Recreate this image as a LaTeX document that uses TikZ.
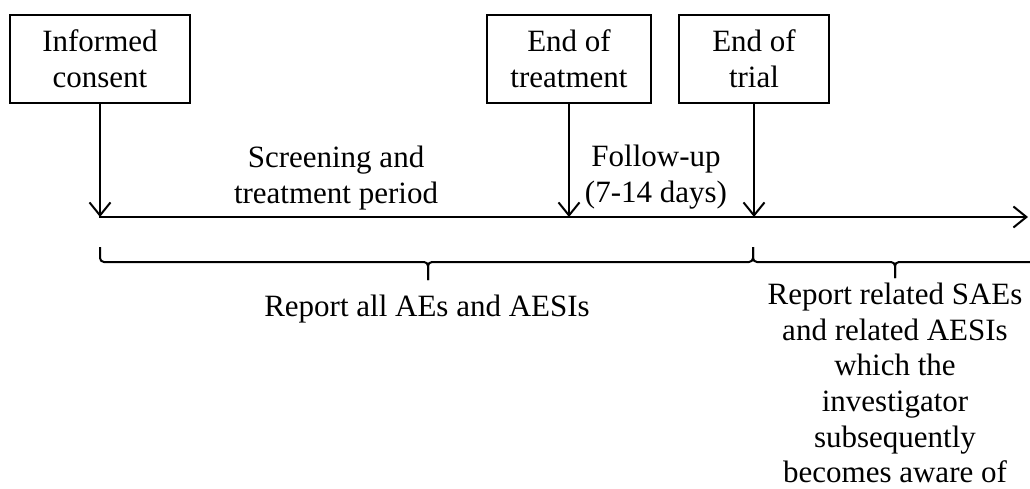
\documentclass[tikz,border=0pt]{standalone}
\usepackage{fontspec}
\setmainfont{Liberation Serif}
\usetikzlibrary{arrows.meta}
\begin{document}
\begin{tikzpicture}[x=1pt,y=-1pt,
  every node/.style={font=\fontsize{31}{36}\selectfont, inner sep=0pt},
  box/.style={draw, line width=2pt, align=center},
  conn/.style={line width=2pt, -{Straight Barb[length=13pt,width=21pt]}},
  bracepath/.style={line width=2pt, rounded corners=4pt},
  lbl/.style={align=center}]
\useasboundingbox (0,0) rectangle (1030,489);
% milestone boxes
\node[box, minimum width=180pt, minimum height=88pt] (ic) at (100,59) {\raisebox{-2pt}{Informed}\\\raisebox{-2pt}{consent}};
\node[box, minimum width=164pt, minimum height=88pt] (eot) at (569,59) {\raisebox{-2pt}{End of}\\\raisebox{-2pt}{treatment}};
\node[box, minimum width=150pt, minimum height=88pt] (etr) at (754,59) {\raisebox{-2pt}{End of}\\\raisebox{-2pt}{trial}};
% timeline
\coordinate (t0) at (99,217);
\coordinate (tend) at (1028,217);
\draw[conn] (t0) -- (tend);
% arrows
\draw[conn] (ic.south) -- (ic.south |- t0);
\draw[conn] (eot.south) -- (eot.south |- t0);
\draw[conn] (etr.south) -- (etr.south |- t0);
% period labels
\node[lbl, anchor=south] (scr) at (336,210) {Screening and\\treatment period};
\node[lbl, anchor=south] (fu) at (656,209) {Follow-up\\(7-14 days)};
% braces
\draw[bracepath] (100,247) -- (100,262) -- (428,262) -- (428,280);
\draw[bracepath] (428,280) -- (428,262) -- (753,262) -- (753,247);
\draw[bracepath] (753,247) -- (753,262) -- (895,262) -- (895,278);
\draw[bracepath] (895,278) -- (895,262) -- (1037,262) -- (1037,247);
% reporting labels
\node[anchor=base] (rall) at (427,316) {Report all AEs and AESIs};
\node[lbl, anchor=north, font=\fontsize{31}{35.6}\selectfont] (rrel) at (895,283) {Report related SAEs\\and related AESIs\\which the\\investigator\\subsequently\\becomes aware of};
\end{tikzpicture}
\end{document}
